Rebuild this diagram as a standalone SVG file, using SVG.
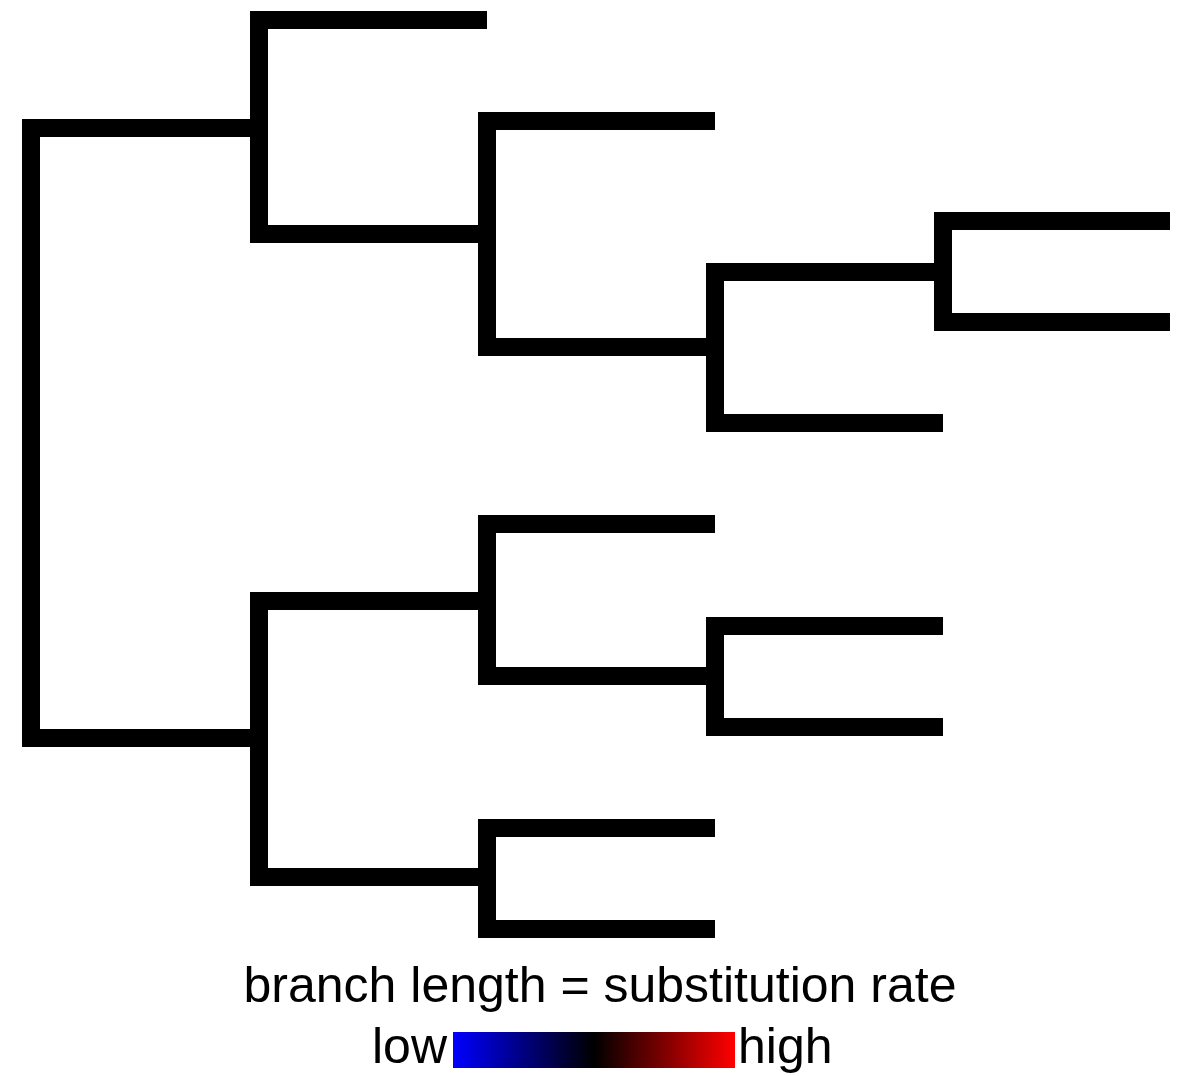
<svg xmlns="http://www.w3.org/2000/svg" width="1184" height="1076" viewBox="0 0 1184 1076">
<defs>
<style>
.br{fill:none;stroke:#000;stroke-width:18;stroke-linecap:butt;stroke-linejoin:miter}
.t{font-family:"Liberation Sans",Arial,sans-serif;font-size:50px;fill:#000}
</style>
<linearGradient id="rate" x1="0" y1="0" x2="1" y2="0">
<stop offset="0" stop-color="#0000ff"/>
<stop offset="0.5" stop-color="#000000"/>
<stop offset="1" stop-color="#ff0000"/>
</linearGradient>
</defs>
<rect width="1184" height="1076" fill="#fff"/>
<g id="connectors">
<g id="root"><path class="br" d="M259,128 H31 V738 H259"/></g>
<g id="nodeA"><path class="br" d="M487,20 H259 V234 H487"/></g>
<g id="nodeB"><path class="br" d="M715,121 H487 V347 H715"/></g>
<g id="nodeC"><path class="br" d="M943,272 H715 V423 H943"/></g>
<g id="nodeD"><path class="br" d="M1170,221 H943 V322 H1170"/></g>
<g id="nodeE"><path class="br" d="M487,601 H259 V877 H487"/></g>
<g id="nodeF"><path class="br" d="M715,524 H487 V676 H715"/></g>
<g id="nodeG"><path class="br" d="M943,626 H715 V727 H943"/></g>
<g id="nodeH"><path class="br" d="M715,828 H487 V929 H715"/></g>
</g>
<g id="legend">
<text class="t" x="600" y="1002" text-anchor="middle">branch length = substitution rate</text>
<text class="t" x="372" y="1063">low</text>
<rect x="453" y="1032" width="282" height="36" fill="url(#rate)"/>
<text class="t" x="738" y="1063">high</text>
</g>
</svg>
